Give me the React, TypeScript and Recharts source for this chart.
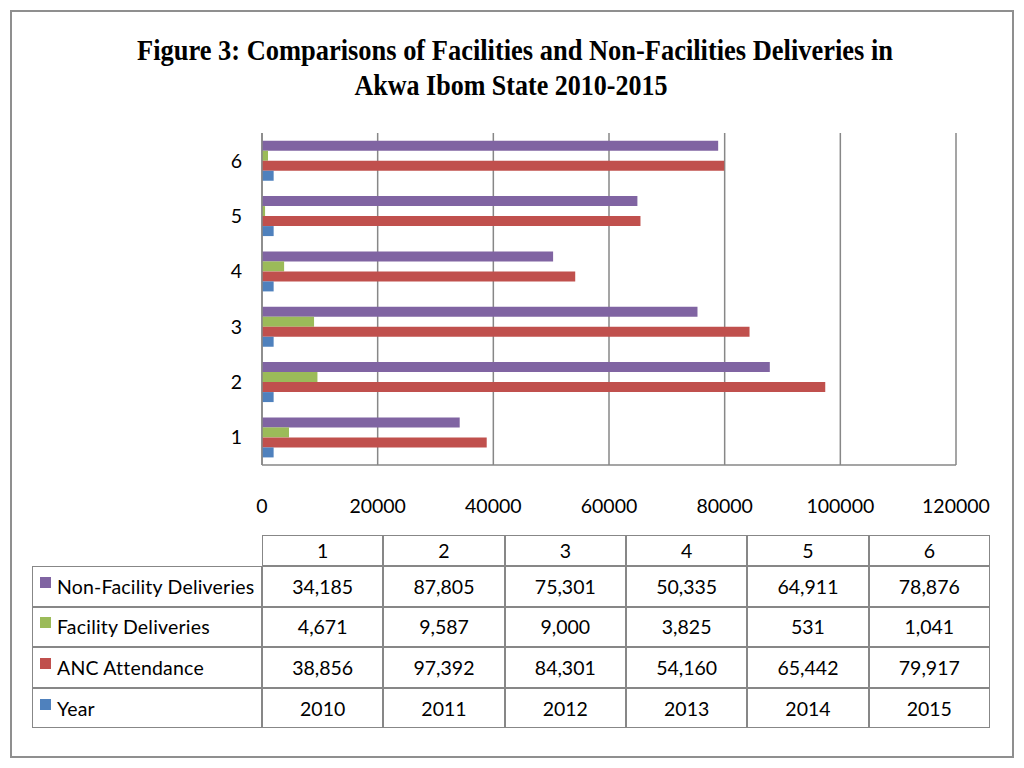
import { Bar, BarChart, CartesianGrid, XAxis, YAxis } from 'recharts';

const categories = ['1', '2', '3', '4', '5', '6'];
const years = [2010, 2011, 2012, 2013, 2014, 2015];
const ancAttendance = [38856, 97392, 84301, 54160, 65442, 79917];
const facilityDeliveries = [4671, 9587, 9000, 3825, 531, 1041];
const nonFacilityDeliveries = [34185, 87805, 75301, 50335, 64911, 78876];
const xTicks = [0, 20000, 40000, 60000, 80000, 100000, 120000];

const seriesInfo = [
  { key: 'nonFacility', name: 'Non-Facility Deliveries', color: '#8064A2', values: nonFacilityDeliveries },
  { key: 'facility', name: 'Facility Deliveries', color: '#9BBB59', values: facilityDeliveries },
  { key: 'anc', name: 'ANC Attendance', color: '#C0504D', values: ancAttendance },
  { key: 'year', name: 'Year', color: '#4F81BD', values: years },
];

const data = categories.map((cat, i) => ({
  cat,
  year: years[i],
  anc: ancAttendance[i],
  facility: facilityDeliveries[i],
  nonFacility: nonFacilityDeliveries[i],
}));

const gridColor = '#878787';
const font = 'Lato, "Open Sans", sans-serif';

// table geometry
const tableLeft = 32;
const colStart = 262;
const colWidth = 121.33;
const headerTop = 535;
const headerH = 31;
const rowH = 40.6;

function DataTable() {
  const cells = [];
  categories.forEach((c, i) => {
    cells.push(
      <div
        key={'h' + i}
        style={{
          position: 'absolute',
          left: colStart + i * colWidth,
          top: headerTop,
          width: colWidth,
          height: headerH,
          border: `1px solid ${gridColor}`,
          boxSizing: 'border-box',
          display: 'flex',
          alignItems: 'center',
          justifyContent: 'center',
        }}
      >
        {c}
      </div>
    );
  });
  seriesInfo.forEach((s, r) => {
    const top = headerTop + headerH + r * rowH;
    cells.push(
      <div
        key={'l' + r}
        style={{
          position: 'absolute',
          left: tableLeft,
          top,
          width: colStart - tableLeft,
          height: rowH,
          border: `1px solid ${gridColor}`,
          boxSizing: 'border-box',
          display: 'flex',
          alignItems: 'center',
          paddingLeft: 7,
          whiteSpace: 'nowrap',
          fontSize: 19.5,
          letterSpacing: 0.2,
        }}
      >
        <span
          style={{
            display: 'inline-block',
            width: 11,
            height: 11,
            background: s.color,
            marginRight: 6,
            marginTop: -8,
          }}
        />
        {s.name}
      </div>
    );
    s.values.forEach((v, i) => {
      cells.push(
        <div
          key={'c' + r + '_' + i}
          style={{
            position: 'absolute',
            left: colStart + i * colWidth,
            top,
            width: colWidth,
            height: rowH,
            border: `1px solid ${gridColor}`,
            boxSizing: 'border-box',
            display: 'flex',
            alignItems: 'center',
            justifyContent: 'center',
          }}
        >
          {s.key === 'year' ? String(v) : v.toLocaleString('en-US')}
        </div>
      );
    });
  });
  return <>{cells}</>;
}

export default function App() {
  const yAxisWidth = 60;
  const xAxisHeight = 60;
  return (
    <div
      style={{
        position: 'absolute',
        left: 0,
        top: 0,
        width: 1024,
        height: 768,
        background: '#fff',
        fontFamily: font,
        fontSize: 19.5,
        color: '#000',
      }}
    >
      <div
        style={{
          position: 'absolute',
          left: 10,
          top: 10,
          width: 1004,
          height: 748,
          border: '2px solid #8f8f8f',
          boxSizing: 'border-box',
        }}
      />
      <svg width={1024} height={110} style={{ position: 'absolute', left: 0, top: 0 }}>
        <text
          x={515}
          y={60}
          textAnchor="middle"
          fontFamily='"Liberation Serif", "Times New Roman", serif'
          fontWeight="bold"
          fontSize={29}
          textLength={756}
          lengthAdjust="spacingAndGlyphs"
        >
          Figure 3: Comparisons of Facilities and Non-Facilities Deliveries in
        </text>
        <text
          x={511}
          y={95}
          textAnchor="middle"
          fontFamily='"Liberation Serif", "Times New Roman", serif'
          fontWeight="bold"
          fontSize={29}
          textLength={313}
          lengthAdjust="spacingAndGlyphs"
        >
          Akwa Ibom State 2010-2015
        </text>
      </svg>
      <div style={{ position: 'absolute', left: 0, top: 0 }}>
        <BarChart
          width={1024}
          height={768}
          data={data}
          layout="vertical"
          barCategoryGap="14%"
          barGap={0}
          margin={{ top: 133, right: 68, bottom: 303 - xAxisHeight, left: 262 - yAxisWidth }}
        >
          <CartesianGrid horizontal={false} stroke={gridColor} strokeWidth={1.5} />
          <XAxis
            type="number"
            domain={[0, 120000]}
            ticks={xTicks}
            interval={0}
            height={xAxisHeight}
            axisLine={{ stroke: gridColor, strokeWidth: 1.5 }}
            tickLine={false}
            tickMargin={28}
            tick={{ fill: '#000', fontSize: 19.5, fontFamily: font }}
          />
          <YAxis
            type="category"
            dataKey="cat"
            reversed
            width={yAxisWidth}
            axisLine={{ stroke: gridColor, strokeWidth: 1.5 }}
            tickLine={false}
            tickMargin={14}
            tick={{ fill: '#000', fontSize: 19.5, fontFamily: font }}
          />
          {seriesInfo.map((s) => (
            <Bar key={s.key} dataKey={s.key} name={s.name} fill={s.color} isAnimationActive={false} />
          ))}
        </BarChart>
      </div>
      <DataTable />
    </div>
  );
}
